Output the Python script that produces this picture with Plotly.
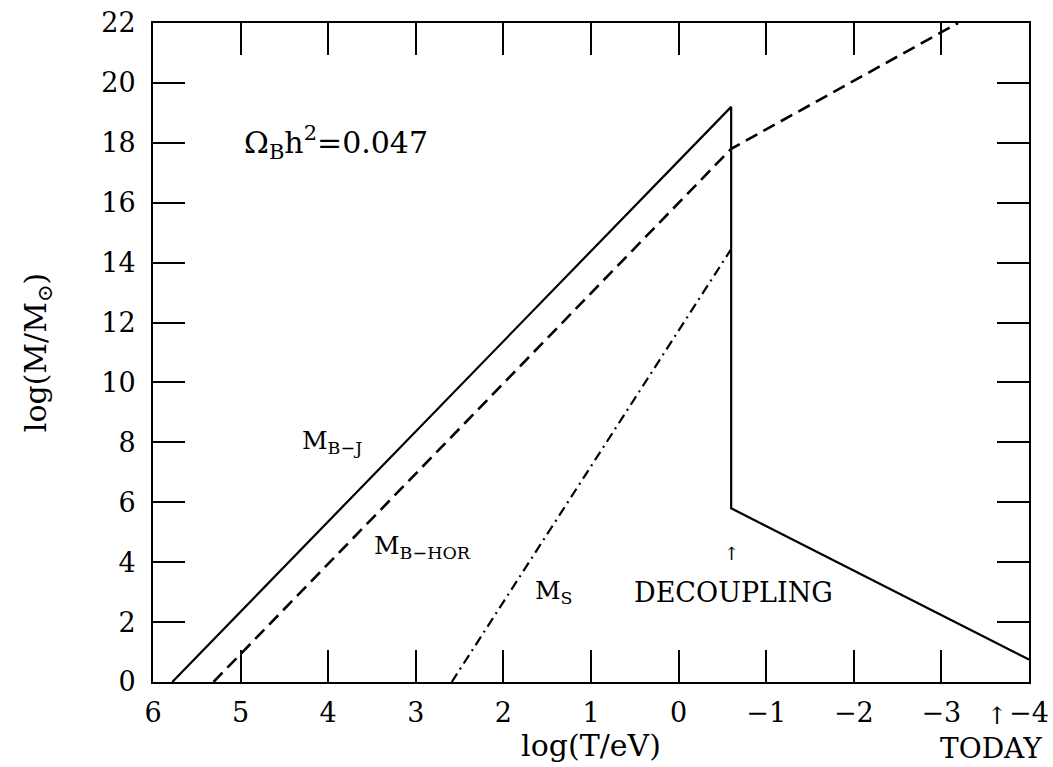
import plotly.graph_objects as go

# Data
T_bj = [5.78, -0.6, -0.6, -4.0]
M_bj = [0.0, 19.2, 5.8, 0.75]
T_hor = [5.31, -0.6, -3.19]
M_hor = [0.0, 17.8, 22.0]
T_s = [2.59, -0.6]
M_s = [0.0, 14.45]

x_ticks = [6, 5, 4, 3, 2, 1, 0, -1, -2, -3, -4]
x_ticktext = ["6", "5", "4", "3", "2", "1", "0", "\u22121", "\u22122", "\u22123", "\u22124"]
y_ticks = list(range(0, 23, 2))

FONT = "DejaVu Serif"

fig = go.Figure()
fig.add_trace(go.Scatter(x=T_bj, y=M_bj, mode="lines",
                         line=dict(color="black", width=2.2, dash="solid")))
fig.add_trace(go.Scatter(x=T_hor, y=M_hor, mode="lines",
                         line=dict(color="black", width=2.6, dash="13px,7px")))
fig.add_trace(go.Scatter(x=T_s, y=M_s, mode="lines",
                         line=dict(color="black", width=2.2, dash="10px,5px,2px,5px")))

ann = [
    dict(x=4.98, y=18.0, text="\u03a9<sub>B</sub>h<sup>2</sup>=0.047", xanchor="left", yanchor="middle", size=30),
    dict(x=4.32, y=8.0, text="M<sub>B\u2212J</sub>", xanchor="left", yanchor="middle", size=25),
    dict(x=3.5, y=4.5, text="M<sub>B\u2212HOR</sub>", xanchor="left", yanchor="middle", size=25),
    dict(x=1.66, y=3.0, text="M<sub>S</sub>", xanchor="left", yanchor="middle", size=25),
    dict(x=-0.63, y=3.0, text="DECOUPLING", xanchor="center", yanchor="middle", size=27),
    dict(x=-0.6, y=4.3, text="\u2191", xanchor="center", yanchor="middle", size=18),
]
for a in ann:
    fig.add_annotation(x=a["x"], y=a["y"], xref="x", yref="y", text=a["text"],
                       showarrow=False, xanchor=a["xanchor"], yanchor=a["yanchor"],
                       font=dict(family=FONT, size=a["size"], color="black"))

# TODAY marker under the -4 tick
fig.add_annotation(x=-3.63, y=0, xref="x", yref="paper", text="\u2191",
                   showarrow=False, xanchor="center", yanchor="top", yshift=-18,
                   font=dict(family=FONT, size=24, color="black"))
fig.add_annotation(x=-3.57, y=0, xref="x", yref="paper", text="TODAY",
                   showarrow=False, xanchor="center", yanchor="top", yshift=-48,
                   font=dict(family=FONT, size=28, color="black"))

axis_common = dict(showline=True, linecolor="black", linewidth=2, mirror="ticks",
                   ticks="inside", ticklen=32, tickwidth=2, tickcolor="black",
                   showgrid=False, zeroline=False, automargin=False,
                   tickfont=dict(family=FONT, size=27, color="black"))

fig.update_xaxes(range=[6, -4], tickvals=x_ticks, ticktext=x_ticktext,
                 title=dict(text="log(T/eV)", font=dict(family=FONT, size=30, color="black"), standoff=0),
                 ticklabelstandoff=6, **axis_common)
fig.update_yaxes(range=[0, 22], tickvals=y_ticks,
                 title=dict(text="log(M/M<sub>\u2299</sub>)", font=dict(family=FONT, size=30, color="black"), standoff=46),
                 ticklabelstandoff=10, **axis_common)

fig.update_layout(width=1053, height=767, showlegend=False,
                  margin=dict(l=153, r=24, t=23, b=85),
                  paper_bgcolor="white", plot_bgcolor="white")

fig.write_html("out.html")
